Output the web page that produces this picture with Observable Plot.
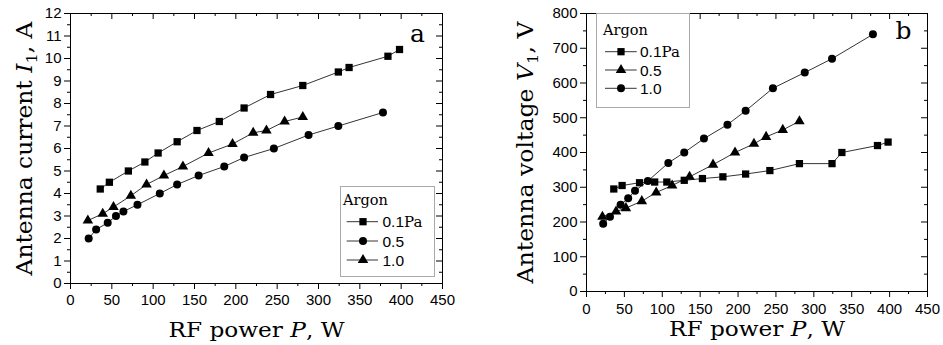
<!DOCTYPE html>
<html><head><meta charset="utf-8">
<script src="https://cdn.jsdelivr.net/npm/d3@7"></script>
<script src="https://cdn.jsdelivr.net/npm/@observablehq/plot@0.6"></script>
<style>
body{margin:0;background:#fff;}
#wrap{position:relative;width:943px;height:345px;overflow:hidden;background:#fff;}
.panel{position:absolute;top:0;}
.leg{position:absolute;}
</style></head>
<body><div id="wrap"></div>
<script>
// ---- data ----
const powerSq = [36, 47, 70, 90, 106, 129, 153, 180, 210, 242, 281, 324, 337, 384, 398];
const currentSq = [4.2, 4.5, 5.0, 5.4, 5.8, 6.3, 6.8, 7.2, 7.8, 8.4, 8.8, 9.4, 9.6, 10.1, 10.4];
const voltageSq = [295, 305, 313, 315, 315, 320, 325, 330, 338, 348, 368, 368, 400, 420, 430];

const powerCi = [22, 31, 45, 55, 64, 81, 108, 129, 155, 186, 210, 246, 288, 324, 378];
const currentCi = [2.0, 2.4, 2.7, 3.0, 3.2, 3.5, 4.0, 4.4, 4.8, 5.2, 5.6, 6.0, 6.6, 7.0, 7.6];
const voltageCi = [195, 215, 250, 268, 290, 318, 370, 400, 440, 480, 520, 585, 630, 670, 740];

const powerTr = [21, 39, 52, 73, 92, 113, 136, 167, 196, 221, 237, 259, 281];
const currentTr = [2.8, 3.1, 3.4, 3.9, 4.4, 4.8, 5.2, 5.8, 6.2, 6.7, 6.8, 7.2, 7.4];
const voltageTr = [215, 230, 240, 260, 285, 305, 330, 365, 400, 425, 445, 465, 490];

const powerTicks = [0, 50, 100, 150, 200, 250, 300, 350, 400, 450];
const powerMinor = [25, 75, 125, 175, 225, 275, 325, 375, 425];
const currentTicks = [0,1,2,3,4,5,6,7,8,9,10,11,12];
const currentMinor = [0.5,1.5,2.5,3.5,4.5,5.5,6.5,7.5,8.5,9.5,10.5,11.5];
const voltageTicks = [0,100,200,300,400,500,600,700,800];
const voltageMinor = [50,150,250,350,450,550,650,750];

const legendA = ["0.1", "0.5", "1.0"];   // square, circle, triangle
const legendB = ["0.1", "0.5", "1.0"];   // square, triangle, circle

const SERIF = "'DejaVu Serif', serif";
const SANS = "'Liberation Sans', Arial, sans-serif";

const zip = (P, Y) => P.map((p, i) => ({P: p, Y: Y[i]}));

function panel({width, ml, mr, mt, mb, yDomain, yTicks, yMinor, series, xLabel, yLabel, letter, xLabDy, yLabDx, letterDx, letterDy, xPad}) {
  const height = 345;
  const pw = width - ml - mr, ph = height - mt - mb;
  const marks = [
    Plot.axisX({ticks: powerMinor, tickSize: 3, tickFormat: () => "", label: null}),
    Plot.axisX({ticks: powerTicks, tickSize: 6, tickPadding: xPad, tickFormat: d => String(d), label: null}),
    Plot.axisY({ticks: yMinor, tickSize: 3, tickFormat: () => "", label: null}),
    Plot.axisY({ticks: yTicks, tickSize: 6, tickPadding: 3, tickFormat: d => String(d), label: null}),
    Plot.tickX(powerTicks, {x: d => d, stroke: "black", insetBottom: ph - 6}),
    Plot.tickX(powerMinor, {x: d => d, stroke: "black", insetBottom: ph - 3}),
    Plot.tickY(yTicks, {y: d => d, stroke: "black", insetLeft: pw - 6}),
    Plot.tickY(yMinor, {y: d => d, stroke: "black", insetLeft: pw - 3}),
    Plot.frame({stroke: "black", strokeWidth: 1})
  ];
  for (const s of series) {
    marks.push(Plot.line(s.data, {x: "P", y: "Y", stroke: "black", strokeWidth: 0.8}));
  }
  for (const s of series) {
    marks.push(Plot.dot(s.data, {x: "P", y: "Y", symbol: s.symbol, r: s.r, fill: "black", stroke: "none"}));
  }
  marks.push(Plot.text([xLabel], {frameAnchor: "bottom", dy: xLabDy, lineAnchor: "bottom", textAnchor: "middle", fontFamily: SERIF, fontSize: 21, fill: "black"}));
  marks.push(Plot.text([yLabel], {frameAnchor: "left", rotate: -90, dx: yLabDx, lineAnchor: "bottom", textAnchor: "middle", fontFamily: SERIF, fontSize: 21.5, fill: "black"}));
  marks.push(Plot.text([letter], {frameAnchor: "top-right", dx: letterDx, dy: letterDy, lineAnchor: "bottom", textAnchor: "middle", fontFamily: SERIF, fontSize: 25, fill: "black"}));
  return Plot.plot({
    width, height, marginLeft: ml, marginRight: mr, marginTop: mt, marginBottom: mb,
    style: {fontFamily: SANS, fontSize: "15px", color: "black", background: "transparent", overflow: "visible"},
    x: {domain: [0, 450]},
    y: {domain: yDomain},
    marks
  });
}

function enrich(svg, str, parts, len) {
  for (const t of svg.querySelectorAll("text")) {
    if (t.textContent === str) {
      t.textContent = "";
      for (const p of parts) {
        const ts = document.createElementNS("http://www.w3.org/2000/svg", "tspan");
        ts.textContent = p.t;
        if (p.italic) ts.setAttribute("font-style", "italic");
        if (p.sub) { ts.setAttribute("dy", "5"); ts.setAttribute("font-size", "15"); }
        if (p.after) ts.setAttribute("dy", "-5");
        t.appendChild(ts);
      }
      t.setAttribute("textLength", len);
      t.setAttribute("lengthAdjust", "spacingAndGlyphs");
    }
  }
}

const wrap = document.getElementById("wrap");

const svgA = panel({
  width: 470, ml: 70, mr: 28, mt: 13, mb: 62,
  yDomain: [0, 12], yTicks: currentTicks, yMinor: currentMinor,
  series: [
    {data: zip(powerSq, currentSq), symbol: "square", r: 4.1},
    {data: zip(powerCi, currentCi), symbol: "circle", r: 4},
    {data: zip(powerTr, currentTr), symbol: "triangle", r: 3.9}
  ],
  xLabel: "RF power P, W", yLabel: "Antenna current I1, A", letter: "a",
  xLabDy: 53, yLabDx: -39, letterDx: -25, letterDy: 28, xPad: 5
});
enrich(svgA, "RF power P, W", [{t: "RF power "}, {t: "P", italic: true}, {t: ", W"}], 176);
enrich(svgA, "Antenna current I1, A", [{t: "Antenna current "}, {t: "I", italic: true}, {t: "1", sub: true}, {t: ", A", after: true}], 254);
svgA.classList.add("panel"); svgA.style.left = "0px";
wrap.appendChild(svgA);

const svgB = panel({
  width: 473, ml: 116, mr: 16, mt: 13, mb: 54,
  yDomain: [0, 800], yTicks: voltageTicks, yMinor: voltageMinor,
  series: [
    {data: zip(powerSq, voltageSq), symbol: "square", r: 4.1},
    {data: zip(powerTr, voltageTr), symbol: "triangle", r: 3.9},
    {data: zip(powerCi, voltageCi), symbol: "circle", r: 4}
  ],
  xLabel: "RF power P, W", yLabel: "Antenna voltage V1, V", letter: "b",
  xLabDy: 44, yLabDx: -54, letterDx: -24, letterDy: 25, xPad: 6
});
enrich(svgB, "RF power P, W", [{t: "RF power "}, {t: "P", italic: true}, {t: ", W"}], 176);
enrich(svgB, "Antenna voltage V1, V", [{t: "Antenna voltage "}, {t: "V", italic: true}, {t: "1", sub: true}, {t: ", V", after: true}], 262);
svgB.classList.add("panel"); svgB.style.left = "470px";
wrap.appendChild(svgB);

// ---- legends (inside the frames) ----
function legend({left, top, w, h, titleX, titleY, rowY, lineX0, lineX1, markX, labelX, labels, symbols}) {
  const svg = d3.select(wrap).append("svg").attr("class", "leg")
    .style("left", left + "px").style("top", top + "px")
    .attr("width", w + 1).attr("height", h + 1);
  svg.append("rect").attr("x", 0.5).attr("y", 0.5).attr("width", w).attr("height", h)
    .attr("fill", "white").attr("stroke", "#a9a9a9").attr("stroke-width", 1);
  svg.append("text").attr("x", titleX).attr("y", titleY).attr("font-family", SERIF)
    .attr("font-size", 14.5).text("Argon");
  labels.forEach((lab, i) => {
    const y = rowY[i];
    svg.append("line").attr("x1", lineX0).attr("x2", lineX1).attr("y1", y).attr("y2", y)
      .attr("stroke", "black").attr("stroke-width", 0.8);
    const sym = symbols[i];
    svg.append("path").attr("transform", `translate(${markX},${y})`)
      .attr("d", d3.symbol(sym.type, Math.PI * sym.r * sym.r)()).attr("fill", "black");
    const t = svg.append("text").attr("x", labelX).attr("y", y).attr("dy", "0.36em")
      .attr("font-family", SANS).attr("font-size", 15.5);
    t.append("tspan").text(lab);
    if (i === 0) t.append("tspan").attr("font-family", SERIF).attr("font-size", 15).text("Pa");
  });
}
legend({left: 340, top: 186, w: 94, h: 90, titleX: 3, titleY: 19, rowY: [35.7, 55, 74],
  lineX0: 6.7, lineX1: 38, markX: 23, labelX: 42.5, labels: legendA,
  symbols: [{type: d3.symbolSquare, r: 4.1}, {type: d3.symbolCircle, r: 4}, {type: d3.symbolTriangle, r: 3.9}]});
legend({left: 596, top: 13, w: 93, h: 94, titleX: 7, titleY: 22, rowY: [38.7, 57, 75.3],
  lineX0: 9, lineX1: 40.7, markX: 25, labelX: 44, labels: legendB,
  symbols: [{type: d3.symbolSquare, r: 4.1}, {type: d3.symbolTriangle, r: 3.9}, {type: d3.symbolCircle, r: 4}]});
</script>
</body></html>
